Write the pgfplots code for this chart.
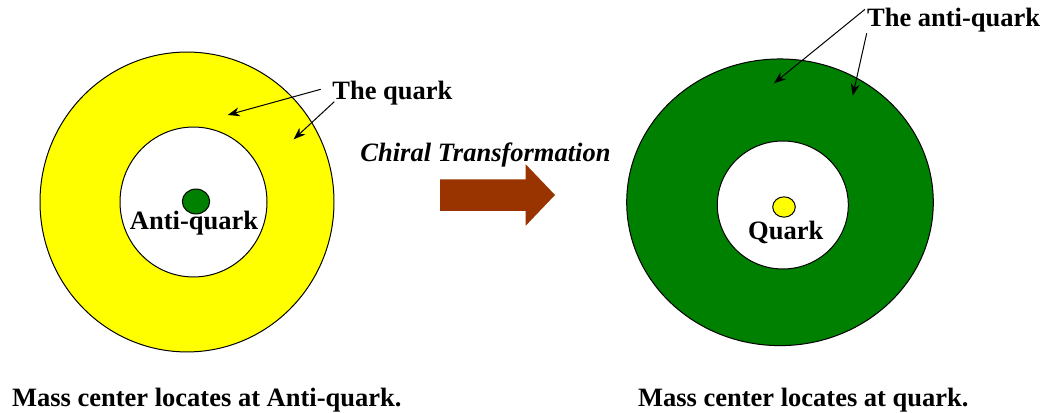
\documentclass[border=0pt]{standalone}
\usepackage{pgfplots}
\pgfplotsset{compat=1.18}
\usepackage{fontspec}
\setmainfont{Liberation Serif}
\usetikzlibrary{arrows.meta}
\definecolor{ringyellow}{HTML}{FFFF00}
\definecolor{ringgreen}{HTML}{008000}
\definecolor{arrowbrown}{HTML}{993300}
\newcommand{\lbl}{\fontsize{13.25bp}{16bp}\selectfont\bfseries}
\tikzset{ptr/.style={line width=0.5pt, -{Stealth[length=6bp, width=4.5bp]}}}
\begin{document}
\begin{tikzpicture}
\begin{axis}[
  name=ax,
  set layers,
  width=522bp, height=206.5bp, scale only axis,
  xmin=0, xmax=1044, ymin=0, ymax=413, y dir=reverse,
  hide axis, clip=false,
]
% left: quark ring around anti-quark
\addplot[only marks, mark=*, mark size=73.5bp, mark options={fill=ringyellow, draw=black, line width=0.5pt, yscale=1.02}] coordinates {(187,202)};
\addplot[only marks, mark=*, mark size=36.75bp, mark options={fill=white, draw=black, line width=0.5pt, yscale=1.02}] coordinates {(193.5,202)};
\addplot[only marks, mark=*, mark size=6.85bp, mark options={fill=ringgreen, draw=black, line width=0.5pt, yscale=0.91}] coordinates {(196,201.5)};
% right: anti-quark ring around quark
\addplot[only marks, mark=*, mark size=76.65bp, mark options={fill=ringgreen, draw=black, line width=0.5pt, yscale=0.935}] coordinates {(780,202.3)};
\addplot[only marks, mark=*, mark size=32.75bp, mark options={fill=white, draw=black, line width=0.5pt, yscale=0.977}] coordinates {(782.8,205)};
\addplot[only marks, mark=*, mark size=5.65bp, mark options={fill=ringyellow, draw=black, line width=0.5pt, yscale=0.9}] coordinates {(784,207)};
% brown transformation arrow
\addplot[draw=none, fill=arrowbrown] coordinates {(440,179.3) (525.7,179.3) (525.7,164.3) (555,195) (525.7,225.7) (525.7,211) (440,211)} -- cycle;
\begin{pgfonlayer}{axis foreground}
% pointer arrows
\draw[ptr] (axis cs:320.7,89.3) -- (axis cs:227.7,115);
\draw[ptr] (axis cs:334.3,101.7) -- (axis cs:293.7,139.3);
\draw[ptr] (axis cs:865,9.3) -- (axis cs:774,83.3);
\draw[ptr] (axis cs:866.7,33.3) -- (axis cs:852.7,95.7);
% labels
\node[anchor=base, inner sep=0pt, font=\lbl] at (axis cs:194,230) {Anti-quark};
\node[anchor=base, inner sep=0pt, font=\lbl] at (axis cs:785.7,240) {Quark};
\node[anchor=base west, inner sep=0pt, font=\lbl] at (axis cs:332,99.3) {The quark};
\node[anchor=base west, inner sep=0pt, font=\lbl] at (axis cs:866.7,26.7) {The anti-quark};
\node[anchor=base, inner sep=0pt, font=\lbl\itshape] at (axis cs:485.5,161.7) {Chiral Transformation};
\node[anchor=base west, inner sep=0pt, font=\lbl] at (axis cs:11.7,406) {Mass center locates at Anti-quark.};
\node[anchor=base, inner sep=0pt, font=\lbl] at (axis cs:803.3,406) {Mass center locates at quark.};
\end{pgfonlayer}
\end{axis}
\path (ax.south west) rectangle (ax.north east);
\end{tikzpicture}
\end{document}
